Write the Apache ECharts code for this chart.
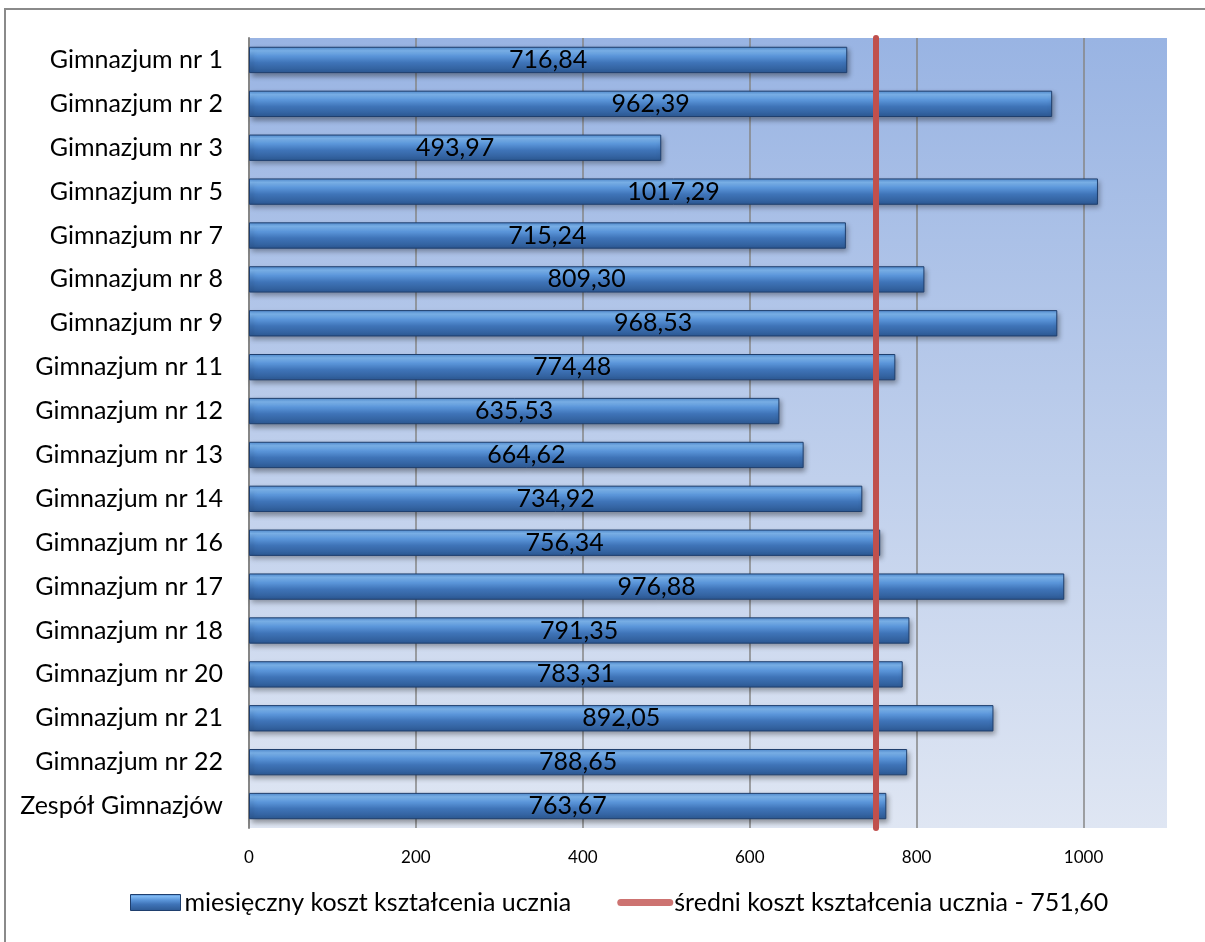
<!DOCTYPE html>
<html><head><meta charset="utf-8">
<script src="https://cdn.jsdelivr.net/npm/echarts@6/dist/echarts.min.js"></script>
<style>html,body{margin:0;padding:0;background:#fff}#c{width:1205px;height:942px}</style>
</head><body><div id="c"></div>
<script>
const categories = ["Gimnazjum nr 1","Gimnazjum nr 2","Gimnazjum nr 3","Gimnazjum nr 5","Gimnazjum nr 7","Gimnazjum nr 8","Gimnazjum nr 9","Gimnazjum nr 11","Gimnazjum nr 12","Gimnazjum nr 13","Gimnazjum nr 14","Gimnazjum nr 16","Gimnazjum nr 17","Gimnazjum nr 18","Gimnazjum nr 20","Gimnazjum nr 21","Gimnazjum nr 22","Zespół Gimnazjów"];
const costs = [716.84,962.39,493.97,1017.29,715.24,809.30,968.53,774.48,635.53,664.62,734.92,756.34,976.88,791.35,783.31,892.05,788.65,763.67];
const average = 751.60;
const seriesNames = ["miesięczny koszt kształcenia ucznia","średni koszt kształcenia ucznia - 751,60"];
const xTicks = {min:0, max:1100, interval:200};

const FONT = "Lato";
const fmt = v => v.toFixed(2).replace('.', ',');
const barGrad = new echarts.graphic.LinearGradient(0,0,0,1,[
  {offset:0,color:'#4f8ad0'},{offset:0.15,color:'#7fb8f2'},{offset:0.35,color:'#5b96da'},
  {offset:0.6,color:'#3f74b8'},{offset:1,color:'#2c5892'}]);
const chart = echarts.init(document.getElementById('c'));
chart.setOption({
  animation:false,
  textStyle:{fontFamily:FONT},
  graphic:[
    {type:'polyline',shape:{points:[[5,942],[5,9],[1205,9]]},style:{stroke:'#8a8a8a',lineWidth:2,fill:null},z:-1}
  ],
  grid:{left:249,top:38,right:38,bottom:114,containLabel:false,show:true,borderWidth:0,
    backgroundColor:new echarts.graphic.LinearGradient(0,0,0,1,[{offset:0,color:'#99b4e3'},{offset:1,color:'#dfe6f3'}])},
  legend:{bottom:22,left:125,itemGap:46,itemWidth:56,itemHeight:16,symbolKeepAspect:true,
    textStyle:{fontFamily:FONT,fontSize:25,color:'#000',padding:[0,0,0,-4]},
    data:[{name:seriesNames[0],icon:'path://M0,0h50v16h-50z',itemStyle:{color:barGrad,borderColor:'#1f3f6e',borderWidth:1}},
          {name:seriesNames[1],icon:'path://M3.5,0H52.5A3.5,3.5 0 0 1 52.5,7H3.5A3.5,3.5 0 0 1 3.5,0Z',itemStyle:{color:'#c0504d'}}]},
  xAxis:{type:'value',min:xTicks.min,max:xTicks.max,interval:xTicks.interval,
    axisLine:{show:false},axisTick:{show:false},
    axisLabel:{fontSize:17,color:'#000',margin:21,showMaxLabel:false,formatter:v=>String(v)},
    splitLine:{show:true,showMaxLine:false,showMinLine:false,lineStyle:{color:'#868686',width:1.5}}},
  yAxis:{type:'category',data:categories,inverse:true,
    axisLine:{show:true,lineStyle:{color:'#868686',width:2}},axisTick:{show:false},
    axisLabel:{fontSize:25,color:'#000',margin:26}},
  series:[
    {name:seriesNames[0],type:'bar',data:costs,barCategoryGap:'40%',
     itemStyle:{color:barGrad,borderColor:'#1f3f6e',borderWidth:1,shadowColor:'rgba(0,0,0,0.35)',shadowBlur:5,shadowOffsetY:3,shadowOffsetX:2},
     label:{show:true,position:'inside',color:'#000',fontSize:25,fontFamily:FONT,formatter:p=>fmt(p.value)},z:2},
    {name:seriesNames[1],type:'scatter',data:[],itemStyle:{color:'#c0504d'},
     markLine:{symbol:'none',silent:true,label:{show:false},
       lineStyle:{color:'#c0504d',width:6,type:'solid',cap:'round'},
       data:[{xAxis:average}]},z:5}
  ]
});
</script></body></html>
